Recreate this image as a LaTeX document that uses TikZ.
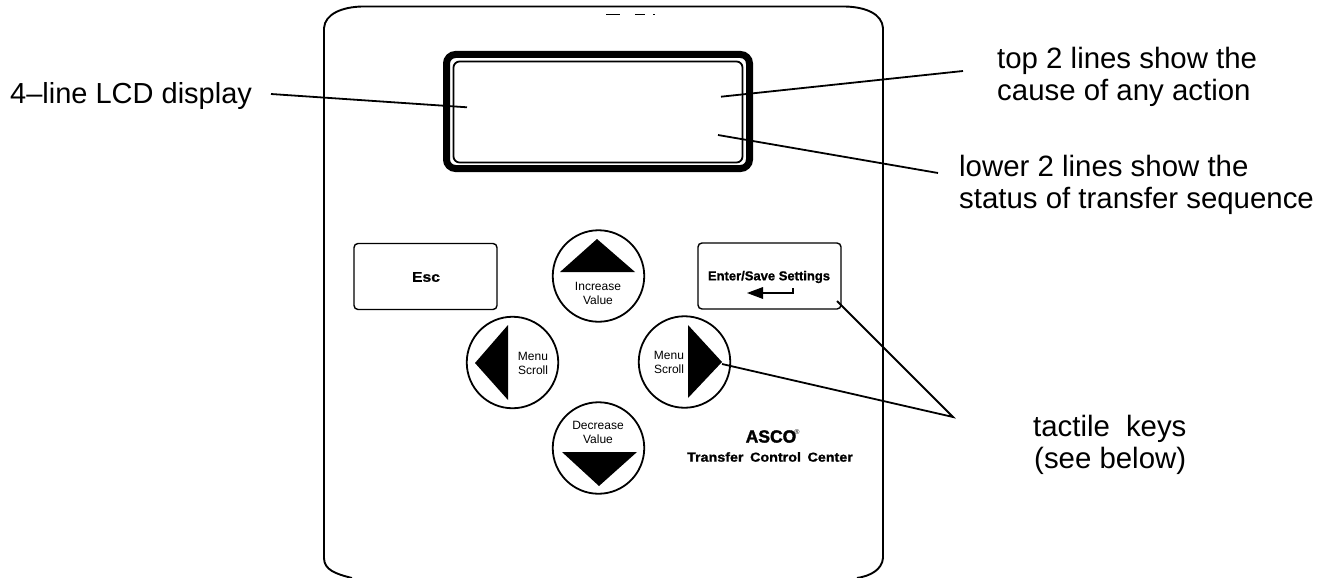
\documentclass[tikz,border=0pt]{standalone}
\usepackage{fontspec}
\setmainfont{Liberation Sans}
\begin{document}
\begin{tikzpicture}[x=1pt,y=-1pt,
 lead/.style={line width=1.8pt},
 lab/.style={font=\fontsize{29.4}{32.5}\selectfont,align=left,inner sep=0pt,anchor=base west},
 keybox/.style={draw,line width=1.4pt,rounded corners=4pt,minimum width=143pt,minimum height=66pt,inner sep=0pt},
 roundkey/.style={draw,circle,line width=1.8pt,minimum size=91.5pt,inner sep=0pt},
 small/.style={font=\fontsize{12}{14}\selectfont,align=center,inner sep=0pt},
 tri/.style={fill=black,draw=none},
 brand/.style={font=\fontsize{13}{15}\selectfont\bfseries\addfontfeature{FakeBold=1},inner sep=0pt}]
\useasboundingbox (0,0) rectangle (1322,578);
% panel
\draw[line width=1.9pt] (352,578) .. controls (336,574) and (324,570) .. (324,558) -- (324,28) .. controls (325,14) and (342,7) .. (362,6.5) -- (845,6.5) .. controls (866,7) and (882,14) .. (883,28) -- (883,558) .. controls (882,570) and (870,576) .. (857,578);
\draw[line width=0.5pt] (606,14.5) -- (620,14.5) (635,14.5) -- (645,14.5) (653,14.5) -- (655,14.5);
% display
\node[draw,line width=7pt,rounded corners=9pt,minimum width=303pt,minimum height=114pt,inner sep=0pt] (lcd) at (598,111.5) {};
\node[draw,line width=1.8pt,rounded corners=6pt,minimum width=289pt,minimum height=101pt,inner sep=0pt] (lcdin) at (598,112) {};
% keys
\node[keybox] (esc) at (425.5,276.5) {};
\node[font=\fontsize{14}{16}\selectfont\bfseries\addfontfeature{FakeBold=1},inner sep=0pt] (esctxt) at (426,277) {\scalebox{1.12}[1]{Esc}};
\node[keybox] (enter) at (769.5,276) {};
\node[brand] (entertxt) at (769,277) {Enter/Save Settings};
\coordinate (retA) at (793,288);
\coordinate (retB) at (793,293);
\coordinate (retC) at (760,293);
\draw[line width=1.8pt] (retA) -- (retB) -- (retC);
\fill (747,293) -- (763,287) -- (763,299) -- cycle;
\node[roundkey] (up) at (598.5,276) {};
\node[roundkey] (left) at (512.5,362.5) {};
\node[roundkey] (right) at (684.5,362) {};
\node[roundkey] (down) at (598.5,448) {};
\fill[tri] (597,239) -- (635,272) -- (560,272) -- cycle;
\fill[tri] (475,363) -- (508,325) -- (508,400) -- cycle;
\fill[tri] (722,362) -- (688,325) -- (688,398) -- cycle;
\fill[tri] (599,486) -- (562,452) -- (637,452) -- cycle;
\node[small] (uptxt) at (598,293) {Increase\\Value};
\node[small] (lefttxt) at (533,363) {Menu\\Scroll};
\node[small] (righttxt) at (669,362) {Menu\\Scroll};
\node[small] (downtxt) at (598,432) {Decrease\\Value};
% brand
\node[font=\fontsize{17.5}{20}\selectfont\bfseries\addfontfeature{FakeBold=2},inner sep=0pt] (logo) at (771,436.5) {ASCO};
\node[font=\fontsize{7}{8}\selectfont,inner sep=0pt] (reg) at (797,432) {®};
\node[brand] (tcc) at (770,457) {\scalebox{1.1}[1]{Transfer\hspace{6pt}Control\hspace{6pt}Center}};
% labels
\node[lab,font=\fontsize{29}{32.5}\selectfont] (l1) at (10,103) {4–line LCD display};
\node[lab] (l2a) at (997,68) {top 2 lines show the};
\node[lab] (l2b) at (997,100.5) {cause of any action};
\node[lab] (l3a) at (959,176) {lower 2 lines show the};
\node[lab] (l3b) at (959,208) {status of transfer sequence};
\node[lab] (l4a) at (1033,436) {tactile\hspace{16pt}keys};
\node[lab] (l4b) at (1034,468) {(see below)};
% leads
\coordinate (a1) at (271,94);
\coordinate (a2) at (467,107.3);
\coordinate (b1) at (963,71);
\coordinate (b2) at (721,96.7);
\coordinate (c1) at (938,173);
\coordinate (c2) at (718,135);
\coordinate (d0) at (953,417);
\coordinate (d1) at (837,301);
\coordinate (d2) at (722,364);
\draw[lead] (a1) -- (a2);
\draw[lead] (b1) -- (b2);
\draw[lead] (c1) -- (c2);
\draw[lead] (d1) -- (d0) -- (d2);
\end{tikzpicture}
\end{document}
